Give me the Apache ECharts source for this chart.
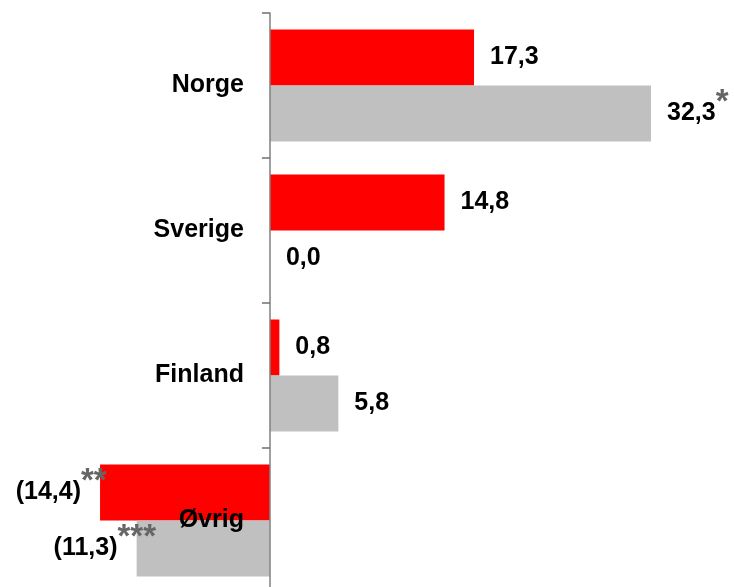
<!DOCTYPE html>
<html>
<head>
<meta charset="utf-8">
<script src="https://cdn.jsdelivr.net/npm/echarts@6/dist/echarts.min.js"></script>
<style>
html,body{margin:0;padding:0;background:#fff;}
#chart{width:735px;height:587px;}
</style>
</head>
<body>
<div id="chart"></div>
<script>
var categories = ['Norge', 'Sverige', 'Finland', 'Øvrig'];
var redValues = [17.3, 14.8, 0.8, -14.4];
var grayValues = [32.3, 0.0, 5.8, -11.3];
var redNotes = ['', '', '', '**'];
var grayNotes = ['*', '', '', '***'];

var FONT = '"Liberation Sans", Arial, sans-serif';
var X_MIN = -22.88, X_MAX = 39.42, GRID_W = 735;

function fmt(v) {
  var s = Math.abs(v).toFixed(1).replace('.', ',');
  return v < 0 ? '(' + s + ')' : s;
}

function buildData(values, notes) {
  return values.map(function (v, i) {
    var note = notes[i];
    var noteW = note.length * 12.8;
    return {
      value: v,
      label: {
        position: v < 0 ? 'left' : 'right',
        distance: v < 0 ? 19 - noteW : 16,
        formatter: fmt(v) + (note ? '{s|' + note + '}' : '')
      }
    };
  });
}

var labelBase = {
  show: true,
  color: '#000',
  fontFamily: FONT,
  fontWeight: 'bold',
  fontSize: 25,
  rich: {
    s: { fontSize: 33, color: '#666666', fontFamily: FONT, fontWeight: 'bold', padding: [0, 0, 21, 0] }
  }
};

// the category axis sits where the value axis is zero
var zeroOffset = -(0 - X_MIN) / (X_MAX - X_MIN) * GRID_W;

var chart = echarts.init(document.getElementById('chart'), null, { renderer: 'canvas' });
chart.setOption({
  animation: false,
  backgroundColor: '#ffffff',
  grid: { left: 0, right: 0, top: 13, height: 580, containLabel: false, outerBoundsMode: 'none' },
  xAxis: {
    type: 'value',
    min: X_MIN,
    max: X_MAX,
    show: false
  },
  yAxis: {
    type: 'category',
    data: categories,
    inverse: true,
    position: 'left',
    offset: zeroOffset,
    z: 10,
    axisLine: { show: true, onZero: false, lineStyle: { color: '#808080', width: 1.5 } },
    axisTick: { show: true, length: 8, lineStyle: { color: '#707070', width: 1.5 } },
    axisLabel: { show: true, margin: 26, color: '#000', fontFamily: FONT, fontWeight: 'bold', fontSize: 25 },
    splitLine: { show: false }
  },
  series: [
    {
      type: 'bar',
      data: buildData(redValues, redNotes),
      barWidth: 56,
      barGap: '0%',
      itemStyle: { color: '#FF0000' },
      label: labelBase
    },
    {
      type: 'bar',
      data: buildData(grayValues, grayNotes),
      barWidth: 56,
      barGap: '0%',
      itemStyle: { color: '#C0C0C0' },
      label: labelBase
    }
  ]
});
</script>
</body>
</html>
